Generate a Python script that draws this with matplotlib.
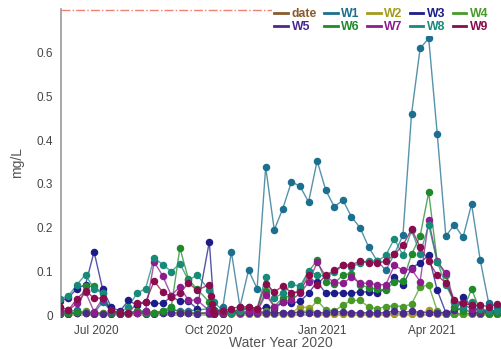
import numpy as np
import pandas as pd
import matplotlib
matplotlib.use("Agg")
import matplotlib.pyplot as plt
import matplotlib.dates as mdates
from matplotlib.lines import Line2D
from matplotlib.ticker import FuncFormatter

plt.rcParams['font.family'] = ['Liberation Sans', 'DejaVu Sans']

# weekly sampling dates (Oct 1 sample replaces the Sep 28 one)
dates = pd.to_datetime([
    "2020-06-01", "2020-06-08", "2020-06-15", "2020-06-22", "2020-06-29",
    "2020-07-06", "2020-07-13", "2020-07-20", "2020-07-27", "2020-08-03",
    "2020-08-10", "2020-08-17", "2020-08-24", "2020-08-31", "2020-09-07",
    "2020-09-14", "2020-09-21", "2020-10-01", "2020-10-05", "2020-10-12",
    "2020-10-19", "2020-10-26", "2020-11-02", "2020-11-09", "2020-11-16",
    "2020-11-23", "2020-11-30", "2020-12-07", "2020-12-14", "2020-12-21",
    "2020-12-28", "2021-01-04", "2021-01-11", "2021-01-18", "2021-01-25",
    "2021-02-01", "2021-02-08", "2021-02-15", "2021-02-22", "2021-03-01",
    "2021-03-08", "2021-03-15", "2021-03-22", "2021-03-29", "2021-04-05",
    "2021-04-12", "2021-04-19", "2021-04-26", "2021-05-03", "2021-05-10",
    "2021-05-17", "2021-05-24"])

w1 = [0.010, 0.008, 0.012, 0.005, 0.005, 0.030, 0.010, 0.005, 0.005, 0.010,
      0.010, 0.005, 0.010, 0.012, 0.010, 0.010, 0.012, 0.015, 0.005, 0.018,
      0.145, 0.019, 0.103, 0.061, 0.339, 0.195, 0.244, 0.305, 0.295, 0.259,
      0.353, 0.286, 0.248, 0.263, 0.225, 0.200, 0.156, 0.124, 0.103, 0.140,
      0.183, 0.460, 0.610, 0.633, 0.414, 0.181, 0.207, 0.178, 0.254, 0.127,
      0.027, 0.020]
w2 = [0.004, 0.004, 0.005, 0.005, 0.006, 0.006, 0.006, 0.006, 0.006, 0.006,
      0.006, 0.006, 0.006, 0.006, 0.006, 0.006, 0.006, 0.005, 0.004, 0.004,
      0.004, 0.004, 0.004, 0.004, 0.004, 0.004, 0.004, 0.004, 0.020, 0.017,
      0.004, 0.004, 0.004, 0.004, 0.004, 0.004, 0.004, 0.004, 0.004, 0.004,
      0.004, 0.004, 0.004, 0.012, 0.004, 0.004, 0.004, 0.004, 0.004, 0.004,
      0.004, 0.004]
w3 = [0.032, 0.040, 0.061, 0.070, 0.145, 0.059, 0.019, 0.009, 0.034, 0.023,
      0.030, 0.027, 0.027, 0.043, 0.032, 0.032, 0.015, 0.168, 0.011, 0.010,
      0.008, 0.012, 0.017, 0.010, 0.020, 0.015, 0.030, 0.027, 0.032, 0.050,
      0.077, 0.050, 0.052, 0.050, 0.050, 0.054, 0.053, 0.050, 0.061, 0.088,
      0.069, 0.108, 0.120, 0.137, 0.057, 0.006, 0.005, 0.042, 0.020, 0.010,
      0.008, 0.008]
w4 = [0.005, 0.005, 0.005, 0.010, 0.005, 0.005, 0.005, 0.003, 0.003, 0.005,
      0.005, 0.005, 0.008, 0.020, 0.005, 0.005, 0.005, 0.003, 0.003, 0.003,
      0.005, 0.005, 0.005, 0.005, 0.010, 0.005, 0.005, 0.005, 0.008, 0.010,
      0.034, 0.012, 0.010, 0.023, 0.034, 0.034, 0.019, 0.015, 0.020, 0.022,
      0.020, 0.025, 0.065, 0.069, 0.010, 0.003, 0.003, 0.003, 0.005, 0.003,
      0.003, 0.003]
w5 = [0.004, 0.004, 0.005, 0.005, 0.004, 0.004, 0.004, 0.004, 0.005, 0.005,
      0.004, 0.004, 0.005, 0.005, 0.005, 0.005, 0.004, 0.006, 0.004, 0.004,
      0.005, 0.005, 0.005, 0.005, 0.006, 0.006, 0.006, 0.006, 0.006, 0.006,
      0.006, 0.006, 0.008, 0.008, 0.006, 0.006, 0.006, 0.006, 0.006, 0.010,
      0.006, 0.010, 0.006, 0.006, 0.006, 0.006, 0.012, 0.015, 0.006, 0.006,
      0.006, 0.006]
w6 = [0.005, 0.005, 0.008, 0.066, 0.066, 0.050, 0.005, 0.005, 0.005, 0.010,
      0.005, 0.005, 0.010, 0.019, 0.154, 0.082, 0.060, 0.030, 0.010, 0.008,
      0.006, 0.015, 0.012, 0.010, 0.055, 0.020, 0.040, 0.045, 0.060, 0.100,
      0.126, 0.076, 0.072, 0.093, 0.095, 0.070, 0.063, 0.060, 0.057, 0.077,
      0.078, 0.139, 0.181, 0.281, 0.122, 0.092, 0.020, 0.010, 0.060, 0.010,
      0.005, 0.005]
w7 = [0.008, 0.011, 0.027, 0.053, 0.008, 0.038, 0.008, 0.005, 0.005, 0.005,
      0.010, 0.122, 0.090, 0.045, 0.065, 0.034, 0.035, 0.010, 0.005, 0.005,
      0.010, 0.005, 0.010, 0.008, 0.047, 0.020, 0.030, 0.035, 0.050, 0.075,
      0.121, 0.089, 0.075, 0.073, 0.087, 0.073, 0.073, 0.070, 0.070, 0.114,
      0.103, 0.105, 0.077, 0.217, 0.123, 0.097, 0.030, 0.025, 0.015, 0.010,
      0.012, 0.010]
w8 = [0.038, 0.044, 0.070, 0.093, 0.060, 0.050, 0.010, 0.005, 0.020, 0.050,
      0.061, 0.131, 0.116, 0.100, 0.118, 0.080, 0.092, 0.057, 0.030, 0.010,
      0.005, 0.010, 0.020, 0.015, 0.088, 0.040, 0.050, 0.071, 0.066, 0.101,
      0.092, 0.089, 0.098, 0.114, 0.110, 0.120, 0.125, 0.123, 0.137, 0.175,
      0.137, 0.194, 0.141, 0.206, 0.122, 0.069, 0.030, 0.020, 0.030, 0.015,
      0.010, 0.010]
w9 = [0.020, 0.011, 0.038, 0.056, 0.039, 0.039, 0.011, 0.005, 0.005, 0.028,
      0.030, 0.078, 0.053, 0.042, 0.050, 0.074, 0.057, 0.070, 0.005, 0.010,
      0.015, 0.020, 0.019, 0.015, 0.072, 0.053, 0.067, 0.052, 0.053, 0.091,
      0.070, 0.091, 0.103, 0.114, 0.116, 0.123, 0.120, 0.120, 0.123, 0.139,
      0.160, 0.197, 0.156, 0.123, 0.091, 0.074, 0.034, 0.027, 0.023, 0.023,
      0.020, 0.025]
# extra W9 samples taken right after Oct 1
w9_extra_dates = pd.to_datetime(["2020-10-02", "2020-10-03", "2020-10-04"])
w9_extra = [0.045, 0.025, 0.010]

series_names = ["W1", "W2", "W3", "W4", "W5", "W6", "W7", "W8", "W9"]
series_vals = [w1, w2, w3, w4, w5, w6, w7, w8, w9]
colors = {"date": "#8b5a2b", "W1": "#1c6f8e", "W2": "#a39b1c", "W3": "#1c1c8a",
          "W4": "#4a9a2a", "W5": "#4a2a8c", "W6": "#1f8a2a", "W7": "#8e1c8e",
          "W8": "#178a78", "W9": "#8b0c4c"}
threshold = 0.698

fig = plt.figure(figsize=(5.01, 3.49), dpi=100)
ax = fig.add_axes([61/501, 32/349, 440/501, 308/349])

for name, vals in zip(series_names, series_vals):
    d = dates
    v = np.array(vals, dtype=float)
    if name == "W9":
        s = pd.Series(np.concatenate([v, w9_extra]),
                      index=d.append(w9_extra_dates)).sort_index()
        d, v = s.index, s.values
    c = colors[name]
    ax.plot(d, v, color=c, lw=1.0, alpha=0.75, zorder=2)
    ax.plot(d, v, ls="none", marker="o", ms=4.4, color=c, zorder=3)

ax.axhline(0, color="#b8b8a8", lw=1.4, zorder=1)
ax.axhline(threshold, xmin=0, xmax=0.48, color="#f08070", lw=1, ls="-.", zorder=1)

ax.set_xlim(pd.Timestamp("2020-06-02"), pd.Timestamp("2021-05-27"))
ax.set_ylim(-0.004, 0.7)
ax.set_yticks([0, 0.1, 0.2, 0.3, 0.4, 0.5, 0.6])
ax.yaxis.set_major_formatter(FuncFormatter(lambda v, p: f"{v:g}"))
ax.xaxis.set_major_locator(mdates.MonthLocator(bymonth=[1, 4, 7, 10]))
ax.xaxis.set_major_formatter(mdates.DateFormatter("%b %Y"))
ax.tick_params(axis="both", length=0, labelsize=8.5, colors="#444444")
ax.tick_params(axis="x", pad=6)
ax.tick_params(axis="y", pad=6)
for s in ["top", "right", "bottom"]:
    ax.spines[s].set_visible(False)
ax.spines["left"].set_color("#999999")
ax.spines["left"].set_linewidth(1.2)
ax.set_xlabel("Water Year 2020", fontsize=10, color="#555555", labelpad=-1)
ax.set_ylabel("mg/L", fontsize=10, color="#555555", labelpad=9)

names = ["date"] + series_names
handles = {n: Line2D([], [], color=colors[n], lw=2) for n in names}
order = ["date", "W5", "W1", "W6", "W2", "W7", "W3", "W8", "W4", "W9"]
leg = fig.legend([handles[n] for n in order], order, ncol=5,
                 loc="upper left", bbox_to_anchor=(272/501, 1 - 6/349),
                 frameon=True, facecolor="white", edgecolor="none", framealpha=1,
                 handlelength=1.1, handletextpad=0.3, columnspacing=0.6,
                 labelspacing=0.05, borderpad=0.2, borderaxespad=0,
                 prop={"weight": "bold", "size": 8.8})
for t, n in zip(leg.get_texts(), order):
    t.set_color(colors[n])

fig.savefig("out.png", dpi=100)
